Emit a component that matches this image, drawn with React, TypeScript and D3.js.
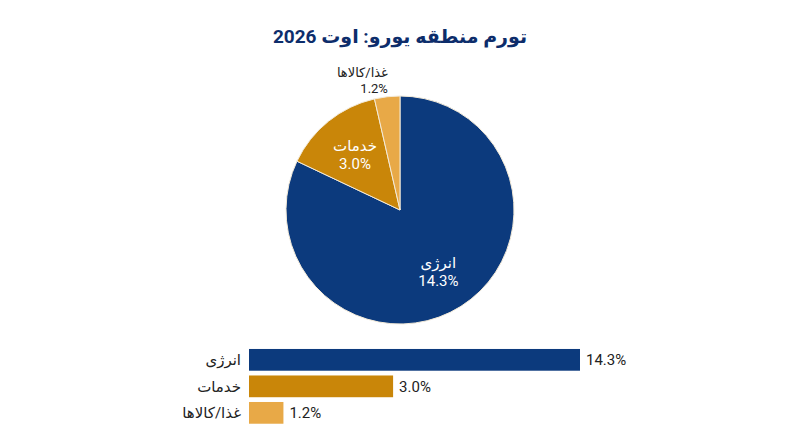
import { useEffect, useRef } from 'react';
import * as d3 from 'd3';

// category labels (Persian) and values
const categories = ['انرژی', 'خدمات', 'غذا/کالاها'];
const values = [14.3, 3.0, 1.2];
// pie slice weights as they appear in the picture (angles measured)
const pieWeights = [13.7, 2.4, 0.6];
const colors = ['#0c3a7d', '#c98609', '#e8a947'];
const title = 'تورم منطقه یورو: اوت 2026';

type Row = { name: string; value: number; weight: number; color: string };

const rows: Row[] = categories.map((name, i) => ({
  name,
  value: values[i],
  weight: pieWeights[i],
  color: colors[i]
}));

const fmt = (v: number) => `${v.toFixed(1)}%`;
const FONT = 'Roboto, "DejaVu Sans", "Noto Sans", sans-serif';

export default function App() {
  const ref = useRef<SVGSVGElement | null>(null);

  useEffect(() => {
    document.body.style.margin = '0';
    if (!ref.current) return;
    const svg = d3.select(ref.current);
    svg.selectAll('*').remove();

    const width = 800;

    // Title
    svg
      .append('text')
      .attr('x', width / 2)
      .attr('y', 43)
      .attr('text-anchor', 'middle')
      .style('font-family', FONT)
      .style('font-size', '19px')
      .style('font-weight', 'bold')
      .style('fill', '#0d2d6b')
      .text(title);

    // Pie
    const cx = 400;
    const cy = 210;
    const radius = 114;
    const pie = d3
      .pie<Row>()
      .sort(null)
      .value((d) => d.weight);
    const arcs = pie(rows);
    const arc = d3.arc<d3.PieArcDatum<Row>>().innerRadius(0).outerRadius(radius);
    const labelArc = d3
      .arc<d3.PieArcDatum<Row>>()
      .innerRadius(radius * 0.63)
      .outerRadius(radius * 0.63);
    const outerArc = d3
      .arc<d3.PieArcDatum<Row>>()
      .innerRadius(radius * 1.1)
      .outerRadius(radius * 1.1);

    const g = svg.append('g').attr('transform', `translate(${cx}, ${cy})`);
    g.selectAll('path')
      .data(arcs)
      .enter()
      .append('path')
      .attr('d', arc)
      .attr('fill', (d) => d.data.color)
      .attr('stroke', '#f3ead8')
      .attr('stroke-width', 1);

    arcs.forEach((a) => {
      const small = a.endAngle - a.startAngle < 0.4;
      if (!small) {
        const [x, y] = labelArc.centroid(a);
        const t = g
          .append('text')
          .attr('text-anchor', 'middle')
          .style('font-family', FONT)
          .style('font-size', '15px')
          .style('fill', '#ffffff');
        t.append('tspan').attr('x', x).attr('y', y - 3).text(a.data.name);
        t.append('tspan').attr('x', x).attr('y', y + 15).text(fmt(a.data.value));
      } else {
        const [x, y] = outerArc.centroid(a);
        const t = g
          .append('text')
          .attr('text-anchor', 'end')
          .style('font-family', FONT)
          .style('font-size', '13px')
          .style('fill', '#222');
        t.append('tspan').attr('x', x + 2).attr('y', y - 8).text(a.data.name);
        t.append('tspan').attr('x', x + 2).attr('y', y + 8).text(fmt(a.data.value));
      }
    });

    // Bars (log scale, as the bar lengths in the picture show)
    const xScale = d3
      .scaleLog()
      .domain([(d3.min(values) as number) * 0.75, d3.max(values) as number])
      .range([249, 580]);
    const yScale = d3
      .scaleBand<string>()
      .domain(categories)
      .range([344.2, 428.5])
      .padding(0.18);

    const bars = svg.append('g');
    bars
      .selectAll('rect')
      .data(rows)
      .enter()
      .append('rect')
      .attr('x', xScale.range()[0])
      .attr('y', (d) => yScale(d.name) as number)
      .attr('width', (d) => xScale(d.value) - xScale.range()[0])
      .attr('height', yScale.bandwidth())
      .attr('fill', (d) => d.color);

    bars
      .selectAll('.cat')
      .data(rows)
      .enter()
      .append('text')
      .attr('class', 'cat')
      .attr('x', 241)
      .attr('y', (d) => (yScale(d.name) as number) + yScale.bandwidth() / 2)
      .attr('dy', '0.35em')
      .attr('text-anchor', 'end')
      .style('font-family', FONT)
      .style('font-size', '15px')
      .style('fill', '#222')
      .text((d) => d.name);

    bars
      .selectAll('.val')
      .data(rows)
      .enter()
      .append('text')
      .attr('class', 'val')
      .attr('x', (d) => xScale(d.value) + 6)
      .attr('y', (d) => (yScale(d.name) as number) + yScale.bandwidth() / 2)
      .attr('dy', '0.35em')
      .style('font-family', FONT)
      .style('font-size', '15px')
      .style('fill', '#222')
      .text((d) => fmt(d.value));
  }, []);

  return <svg ref={ref} width={800} height={447} style={{ display: 'block', background: '#fff' }} />;
}
